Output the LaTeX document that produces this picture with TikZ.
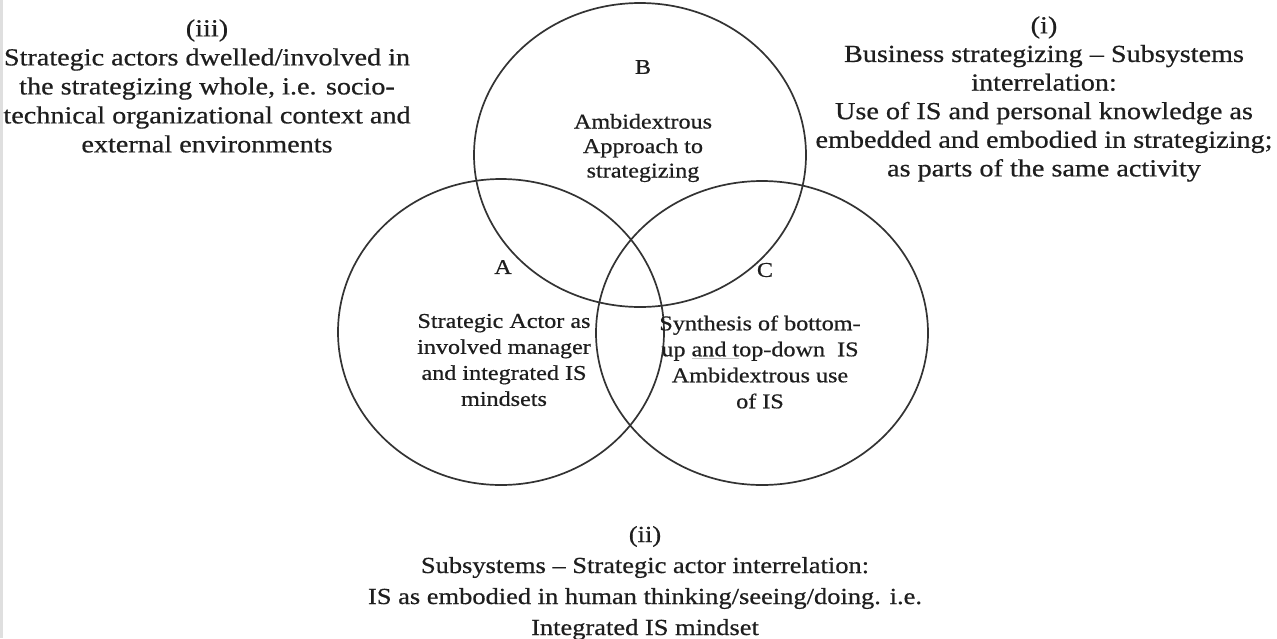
\documentclass[tikz,border=0pt]{standalone}
\usepackage{fontspec}
\setmainfont{Liberation Serif}[FakeStretch=1.15,FakeBold=0.6]
\usetikzlibrary{shapes.geometric}
\definecolor{ink}{HTML}{1E1E1E}
\definecolor{ringcol}{HTML}{333333}
\tikzset{
  ring/.style={ellipse, draw=ringcol, line width=1.7pt, inner sep=0pt,
    minimum width=332pt, minimum height=304pt},
  outertxt/.style={align=center, text=ink, inner sep=0pt,
    font=\fontsize{24.5}{29}\selectfont},
  bottomtxt/.style={align=center, text=ink, inner sep=0pt,
    font=\fontsize{23}{31}\selectfont},
  innertxt/.style={align=center, text=ink, inner sep=0pt,
    font=\fontsize{21}{26}\selectfont},
  letter/.style={text=ink, inner sep=0pt, font=\fontsize{21}{26}\selectfont}
}
\begin{document}
\begin{tikzpicture}[x=1pt,y=-1pt]
\useasboundingbox (0,0) rectangle (1277,638);
\fill[white] (0,0) rectangle (1277,638);
\fill[gray!25] (0,0) rectangle (2.5,638);
% circles
\node[ring, minimum width=326pt, minimum height=306pt] (circA) at (501,332) {};
\node[ring] (circB) at (640,155) {};
\node[ring] (circC) at (762,333) {};
% letters
\node[letter] (labB) at (643,67) {B};
\node[letter] (labA) at (503,267) {A};
\node[letter] (labC) at (765,270) {C};
% inner texts
\node[innertxt, font=\fontsize{21}{24.5}\selectfont] (txtB) at (643,148) {Ambidextrous\\Approach to\\strategizing};
\node[innertxt] (txtA) at (504,360) {Strategic Actor as\\involved manager\\and integrated IS\\mindsets};
\node[innertxt] (txtC) at (760,362) {Synthesis of bottom-\\up {\color{gray!45}\underline{\color{ink}and t}}op-down\ \ IS\\Ambidextrous use\\of IS};
% outer texts
\node[outertxt] (txtiii) at (207,86) {(iii)\\Strategic actors dwelled/involved in\\the strategizing whole, i.e. socio-\\technical organizational context and\\external environments};
\node[outertxt, font=\fontsize{24.5}{28.6}\selectfont] (txti) at (1044,99) {(i)\\Business strategizing -- Subsystems\\interrelation:\\Use of IS and personal knowledge as\\embedded and embodied in strategizing;\\as parts of the same activity};
\node[bottomtxt] (txtii) at (645,583) {(ii)\\Subsystems -- Strategic actor interrelation:\\IS as embodied in human thinking/seeing/doing. i.e.\\Integrated IS mindset};
\end{tikzpicture}
\end{document}
